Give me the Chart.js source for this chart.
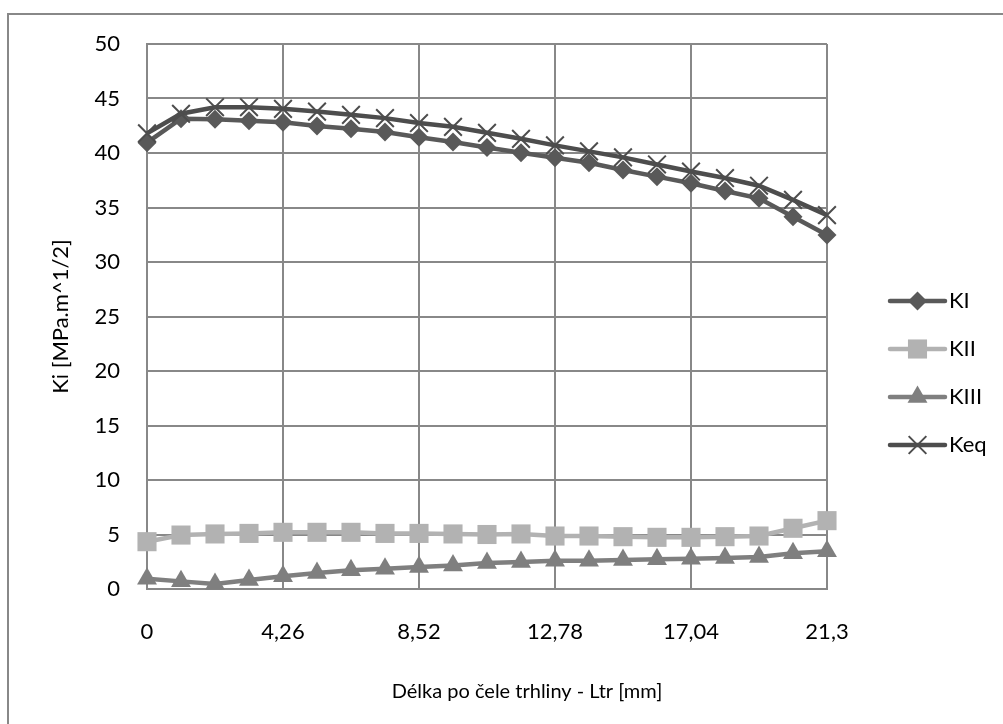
<!DOCTYPE html>
<html>
<head>
<meta charset="utf-8">
<script src="https://cdn.jsdelivr.net/npm/chart.js@4.4.0/dist/chart.umd.min.js"></script>
<style>
  html, body { margin: 0; padding: 0; background: #fff; overflow: hidden; }
  canvas { display: block; }
</style>
</head>
<body>
<canvas id="c" width="1003" height="724"></canvas>
<script>
// Position along the crack front, Ltr [mm]
const ltr = [0, 1.065, 2.13, 3.195, 4.26, 5.325, 6.39, 7.455, 8.52, 9.585, 10.65,
             11.715, 12.78, 13.845, 14.91, 15.975, 17.04, 18.105, 19.17, 20.235, 21.3];

// Stress intensity factors [MPa.m^1/2]
const kI   = [40.95, 43.15, 43.1, 42.95, 42.82, 42.48, 42.23, 41.93, 41.44, 41.0, 40.5,
              40.03, 39.57, 39.11, 38.44, 37.83, 37.22, 36.51, 35.84, 34.16, 32.48];
const kII  = [4.34, 4.95, 5.05, 5.1, 5.2, 5.2, 5.2, 5.1, 5.1, 5.05, 5.0,
              5.05, 4.86, 4.86, 4.8, 4.74, 4.74, 4.8, 4.86, 5.57, 6.27];
const kIII = [0.95, 0.7, 0.45, 0.83, 1.16, 1.47, 1.71, 1.86, 2.02, 2.16, 2.38,
              2.48, 2.6, 2.6, 2.66, 2.72, 2.78, 2.84, 2.94, 3.27, 3.47];
const kEq  = [41.8, 43.6, 44.2, 44.2, 44.05, 43.8, 43.5, 43.2, 42.75, 42.4, 41.85,
              41.3, 40.7, 40.15, 39.6, 38.95, 38.3, 37.7, 37.0, 35.7, 34.3];

const seriesNames = ['KI', 'KII', 'KIII', 'Keq'];
const xTickValues = [0, 4.26, 8.52, 12.78, 17.04, 21.3];
const xTickLabels = ['0', '4,26', '8,52', '12,78', '17,04', '21,3'];
const yTitle = 'Ki [MPa.m^1/2]';
const xTitle = 'Délka po čele trhliny - Ltr [mm]';

const FONT = 'Lato, "Open Sans", sans-serif';
const FONT_SIZE = 22;
const Y_TITLE_SIZE = 22;
const X_TITLE_SIZE = 20;
const GRID = '#888888';

const seriesStyle = [
  { color: '#595959', pointStyle: 'rectRot',  radius: 9.5, borderWidth: 0 },
  { color: '#b2b2b2', pointStyle: 'rect',     radius: 13.5, borderWidth: 0 },
  { color: '#7f7f7f', pointStyle: 'triangle', radius: 11.5, borderWidth: 0 },
  { color: '#4d4d4d', pointStyle: 'crossRot', radius: 12.5, borderWidth: 2 }
];

const seriesValues = [kI, kII, kIII, kEq];

function toPoints(vals) { return ltr.map((x, i) => ({ x: x, y: vals[i] })); }

const datasets = seriesValues.map((vals, i) => {
  const s = seriesStyle[i];
  return {
    label: seriesNames[i],
    data: toPoints(vals),
    borderColor: s.color,
    backgroundColor: s.color,
    borderWidth: 4.5,
    pointStyle: s.pointStyle,
    pointRadius: s.radius,
    pointHoverRadius: s.radius,
    pointBackgroundColor: s.color,
    pointBorderColor: s.color,
    pointBorderWidth: s.borderWidth,
    tension: 0,
    clip: false,
    order: 3 - i
  };
});

// Frame, axis titles and a legend with line + marker samples
const decorations = {
  id: 'decorations',
  beforeDraw(chart) {
    const ctx = chart.ctx;
    ctx.save();
    ctx.fillStyle = '#ffffff';
    ctx.fillRect(0, 0, chart.width, chart.height);
    ctx.strokeStyle = GRID;
    ctx.lineWidth = 2;
    ctx.beginPath();
    ctx.moveTo(8, chart.height);
    ctx.lineTo(8, 14);
    ctx.lineTo(chart.width, 14);
    ctx.stroke();
    ctx.restore();
  },
  afterDraw(chart) {
    const ctx = chart.ctx;
    const area = chart.chartArea;
    ctx.save();
    ctx.fillStyle = '#000';
    ctx.textAlign = 'center';
    ctx.textBaseline = 'middle';
    // y axis title
    ctx.font = Y_TITLE_SIZE + 'px ' + FONT;
    ctx.save();
    ctx.translate(61, (area.top + area.bottom) / 2);
    ctx.rotate(-Math.PI / 2);
    ctx.fillText(yTitle, 0, 0);
    ctx.restore();
    // x axis title
    ctx.font = X_TITLE_SIZE + 'px ' + FONT;
    ctx.fillText(xTitle, 527, 692);

    // legend
    ctx.font = FONT_SIZE + 'px ' + FONT;
    const lx0 = 890, lx1 = 945, ly0 = 301, lstep = 48;
    seriesNames.forEach((name, i) => {
      const s = seriesStyle[i];
      const y = ly0 + i * lstep;
      ctx.strokeStyle = s.color;
      ctx.lineWidth = 4.5;
      ctx.lineCap = 'round';
      ctx.beginPath();
      ctx.moveTo(lx0, y);
      ctx.lineTo(lx1, y);
      ctx.stroke();
      ctx.lineCap = 'butt';
      ctx.fillStyle = s.color;
      ctx.strokeStyle = s.color;
      ctx.lineWidth = s.borderWidth;
      Chart.helpers.drawPoint(ctx, {
        pointStyle: s.pointStyle, rotation: 0, radius: s.radius, borderWidth: s.borderWidth
      }, (lx0 + lx1) / 2, y);
      ctx.fillStyle = '#000';
      ctx.textAlign = 'left';
      ctx.fillText(name, 949, y);
    });
    ctx.restore();
  }
};

new Chart(document.getElementById('c'), {
  type: 'line',
  data: { datasets: datasets },
  options: {
    responsive: false,
    devicePixelRatio: 1,
    animation: false,
    events: [],
    layout: { padding: { top: 44, right: 176, left: 0, bottom: 0 } },
    plugins: { legend: { display: false }, tooltip: { enabled: false } },
    scales: {
      x: {
        type: 'linear',
        min: 0,
        max: 21.3,
        afterFit(scale) { scale.height = 135; },
        afterBuildTicks(scale) { scale.ticks = xTickValues.map(v => ({ value: v })); },
        ticks: {
          autoSkip: false,
          maxRotation: 0,
          padding: 30,
          color: '#000',
          font: { family: FONT, size: FONT_SIZE },
          callback: (v, i) => xTickLabels[i]
        },
        grid: { color: GRID, lineWidth: 2, drawTicks: false },
        border: { color: GRID, width: 2 }
      },
      y: {
        min: 0,
        max: 50,
        afterFit(scale) { scale.width = 147; },
        ticks: {
          stepSize: 5,
          padding: 27,
          color: '#000',
          font: { family: FONT, size: FONT_SIZE }
        },
        grid: { color: GRID, lineWidth: 2, drawTicks: false },
        border: { color: GRID, width: 2 }
      }
    }
  },
  plugins: [decorations]
});
</script>
</body>
</html>
